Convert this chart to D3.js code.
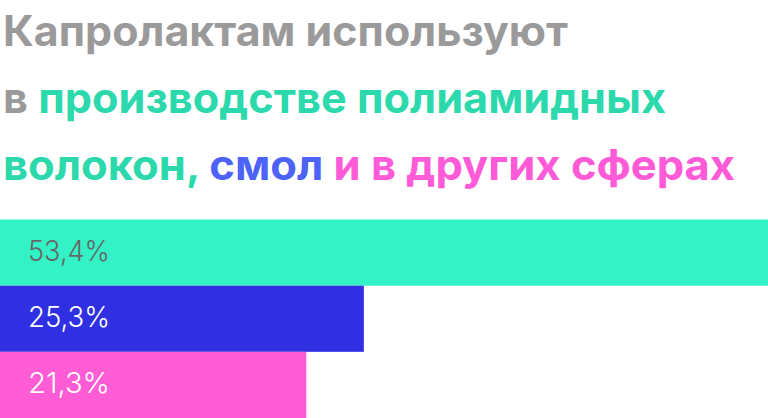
<!DOCTYPE html>
<head>
    <meta charset="utf-8">
    <script src="https://cdn.jsdelivr.net/npm/d3@7"></script>
    <style>
        body { margin: 0; background: #fff; }
        text { font-family: Inter, Roboto, "Noto Sans", sans-serif; }
    </style>
</head>
<body>
<script>

    // chart data
    var categories = ["полиамидные волокна", "смолы", "другие сферы"];
    var values = [53.4, 25.3, 21.3];
    var labels = ["53,4%", "25,3%", "21,3%"];
    var barColors = ["#33f2c6", "#3030e2", "#ff5cd6"];
    var labelColors = ["#666666", "#ffffff", "#ffffff"];

    // title pieces: [line, text, colour]
    var titleParts = [
        [0, "Капролактам используют", "#9a9a9a"],
        [1, "в ", "#9a9a9a"],
        [1, "производстве полиамидных", "#2bd9ad"],
        [2, "волокон, ", "#2bd9ad"],
        [2, "смол ", "#4d63f8"],
        [2, "и в других сферах", "#ff5ad8"]
    ];
    var lineWidths = [565, 663, 732];

    var W = 768, H = 418;

    var svg = d3.select("body").append("svg")
        .attr("width", W)
        .attr("height", H);

    var title = svg.append("g");
    [0, 1, 2].forEach(function(line) {
        var t = title.append("text")
            .attr("x", 3)
            .attr("y", 46 + line * 67)
            .style("font-size", "42px")
            .style("font-weight", 700);
        titleParts.filter(function(p) { return p[0] === line; }).forEach(function(p) {
            t.append("tspan").text(p[1]).style("fill", p[2]);
        });
        t.attr("textLength", lineWidths[line]).attr("lengthAdjust", "spacingAndGlyphs");
    });

    var x = d3.scaleLinear().domain([0, 53.4]).range([0, W]);
    var y = d3.scaleBand().domain(d3.range(values.length)).range([219.5, 418]).padding(0);

    var g = svg.append("g");

    g.selectAll("rect").data(values).enter().append("rect")
        .attr("x", 0)
        .attr("y", function(d, i) { return y(i); })
        .attr("width", function(d) { return x(d); })
        .attr("height", y.bandwidth())
        .style("fill", function(d, i) { return barColors[i]; });

    g.selectAll("text.lbl").data(values).enter().append("text")
        .attr("class", "lbl")
        .attr("x", 28)
        .attr("y", function(d, i) { return y(i) + y.bandwidth() / 2 + 8.5; })
        .text(function(d, i) { return labels[i]; })
        .attr("textLength", 82)
        .attr("lengthAdjust", "spacingAndGlyphs")
        .style("font-size", "29px")
        .style("font-weight", 300)
        .style("fill", function(d, i) { return labelColors[i]; });

</script>
</body>
